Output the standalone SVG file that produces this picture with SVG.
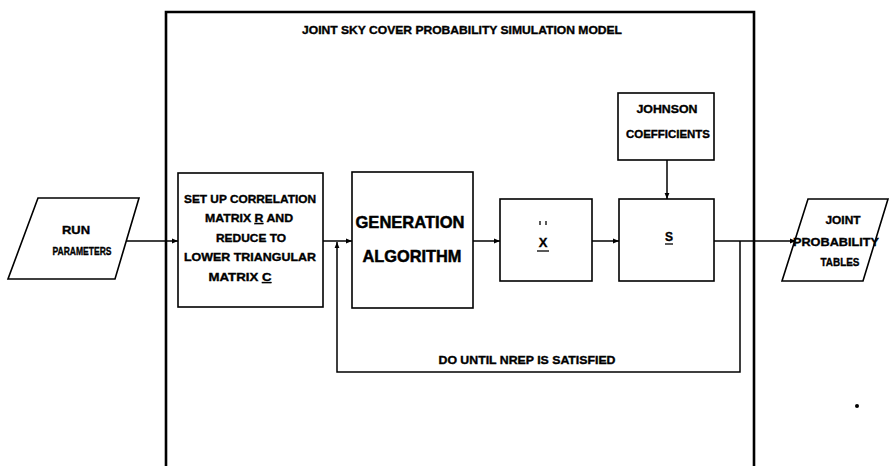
<svg xmlns="http://www.w3.org/2000/svg" width="889" height="466" viewBox="0 0 889 466">
<defs>
<marker id="ah" viewBox="0 0 10 10" refX="10" refY="5" markerWidth="6" markerHeight="6" orient="auto" markerUnits="userSpaceOnUse">
<path d="M0,1 L10,5 L0,9 z" fill="#000"/>
</marker>
<style>
.box{fill:#fff;stroke:#000;stroke-width:1.6}
.frame{fill:none;stroke:#000;stroke-width:2.6}
.con{fill:none;stroke:#000;stroke-width:1.5}
.t{font-family:"Liberation Sans",Arial,sans-serif;font-weight:bold;font-size:11px;fill:#000;stroke:#000;stroke-width:0.35;text-anchor:middle}
.big{font-size:17px;stroke-width:0.5}
.ul{stroke:#000;stroke-width:1.3}
.u{text-decoration:underline}
</style>
</defs>
<rect width="889" height="466" fill="#fff"/>
<g id="frame">
<path class="frame" d="M166,466 L166,12 L754,12 L754,466"/>
<text class="t" x="462" y="34" textLength="320" lengthAdjust="spacingAndGlyphs">JOINT SKY COVER PROBABILITY SIMULATION MODEL</text>
</g>
<g id="connectors">
<line class="con" x1="125" y1="241" x2="178" y2="241" marker-end="url(#ah)"/>
<line class="con" x1="323" y1="241" x2="352" y2="241" marker-end="url(#ah)"/>
<line class="con" x1="473" y1="241" x2="500" y2="241" marker-end="url(#ah)"/>
<line class="con" x1="592" y1="241" x2="619" y2="241" marker-end="url(#ah)"/>
<line class="con" x1="667" y1="160" x2="667" y2="199" marker-end="url(#ah)"/>
<line class="con" x1="714" y1="241" x2="796" y2="241" marker-end="url(#ah)"/>
<path class="con" d="M740,241 L740,372 L337,372 L337,242" marker-end="url(#ah)"/>
<text class="t" x="527" y="364" textLength="177" lengthAdjust="spacingAndGlyphs">DO UNTIL NREP IS SATISFIED</text>
</g>
<g id="run-parameters">
<polygon class="box" points="38,198 139,198 115,279 8,279"/>
<text class="t" x="76" y="234" textLength="28" lengthAdjust="spacingAndGlyphs">RUN</text>
<text class="t" x="82" y="255" textLength="59" lengthAdjust="spacingAndGlyphs">PARAMETERS</text>
</g>
<g id="correlation">
<rect class="box" x="178" y="173" width="145" height="134"/>
<text class="t" x="250" y="203" textLength="132" lengthAdjust="spacingAndGlyphs">SET UP CORRELATION</text>
<text class="t" x="249" y="222" textLength="88" lengthAdjust="spacingAndGlyphs">MATRIX <tspan class="u">R</tspan> AND</text>
<text class="t" x="251" y="242" textLength="70" lengthAdjust="spacingAndGlyphs">REDUCE TO</text>
<text class="t" x="250" y="261" textLength="132" lengthAdjust="spacingAndGlyphs">LOWER TRIANGULAR</text>
<text class="t" x="240" y="281" textLength="63" lengthAdjust="spacingAndGlyphs">MATRIX <tspan class="u">C</tspan></text>
</g>
<g id="generation">
<rect class="box" x="352" y="172" width="121" height="136"/>
<text class="t big" x="410" y="228" textLength="109" lengthAdjust="spacingAndGlyphs">GENERATION</text>
<text class="t big" x="412" y="262" textLength="99" lengthAdjust="spacingAndGlyphs">ALGORITHM</text>
</g>
<g id="x-box">
<rect class="box" x="500" y="199" width="92" height="82"/>
<line class="ul" x1="540" y1="221" x2="540" y2="225"/>
<line class="ul" x1="546" y1="221" x2="546" y2="225"/>
<text class="t" x="543" y="247" style="font-size:13px">X</text>
<line class="ul" x1="537" y1="251" x2="549" y2="251"/>
</g>
<g id="johnson">
<rect class="box" x="618" y="93" width="96" height="67"/>
<text class="t" x="667" y="113" textLength="61" lengthAdjust="spacingAndGlyphs">JOHNSON</text>
<text class="t" x="668" y="138" textLength="84" lengthAdjust="spacingAndGlyphs">COEFFICIENTS</text>
</g>
<g id="s-box">
<rect class="box" x="619" y="199" width="95" height="82"/>
<text class="t" x="669" y="241" style="font-size:12px">S</text>
<line class="ul" x1="665" y1="244" x2="673" y2="244"/>
</g>
<g id="joint-tables">
<polygon class="box" points="808,199 888,199 863,281 782,281"/>
<text class="t" x="843" y="224" textLength="35" lengthAdjust="spacingAndGlyphs">JOINT</text>
<text class="t" x="836" y="246" textLength="86" lengthAdjust="spacingAndGlyphs">PROBABILITY</text>
<text class="t" x="840" y="266" textLength="39" lengthAdjust="spacingAndGlyphs">TABLES</text>
</g>
<circle cx="857" cy="406" r="2" fill="#000"/>
</svg>
